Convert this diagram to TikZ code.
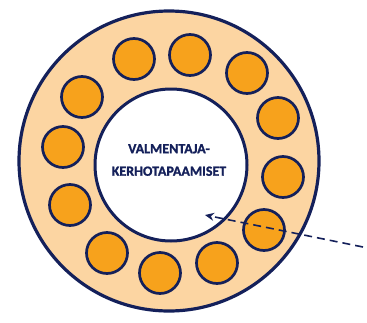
\documentclass[tikz,border=0pt]{standalone}
\usepackage{fontspec}
\setmainfont{Carlito}
\newfontfamily\labelfont[FakeBold=1.2]{Carlito Bold}
\usetikzlibrary{arrows.meta}
\definecolor{navy}{HTML}{14205A}
\definecolor{ringfill}{HTML}{FCD5A2}
\definecolor{dotfill}{HTML}{F7A21C}
\tikzset{
  ring/.style={circle,draw=navy,line width=3.2pt,fill=ringfill,minimum size=300pt,inner sep=0pt},
  hub/.style={circle,draw=navy,line width=3pt,fill=white,minimum size=152pt,inner sep=0pt},
  member/.style={circle,draw=navy,line width=2.7pt,fill=dotfill,minimum size=41pt,inner sep=0pt},
  label/.style={font=\labelfont\fontsize{14}{22.5}\selectfont,text=navy,align=center},
  pointer/.style={draw=navy,line width=1.6pt,dash pattern=on 8pt off 5pt,-{Stealth[length=9pt,width=8pt]}}
}
\begin{document}
\begin{tikzpicture}[x=1pt,y=-1pt]
\useasboundingbox (0,0) rectangle (367,322);
\node[ring] (outer) at (169,161) {};
\node[hub] (inner) at (171,165) {};
\node[member] (m1) at (134,59) {};
\node[member] (m2) at (190,55) {};
\node[member] (m3) at (247,73) {};
\node[member] (m4) at (82,97) {};
\node[member] (m5) at (278,118) {};
\node[member] (m6) at (63,147) {};
\node[member] (m7) at (283,177) {};
\node[member] (m8) at (70,205) {};
\node[member] (m9) at (264,230) {};
\node[member] (m10) at (107,253) {};
\node[member] (m11) at (160,273) {};
\node[member] (m12) at (217,263) {};
\node[label] (title) at (169,160) {VALMENTAJA-\\KERHOTAPAAMISET};
\coordinate (src) at (363,247);
\coordinate (tip) at (205,215);
\draw[pointer] (src) -- (tip);
\end{tikzpicture}
\end{document}
